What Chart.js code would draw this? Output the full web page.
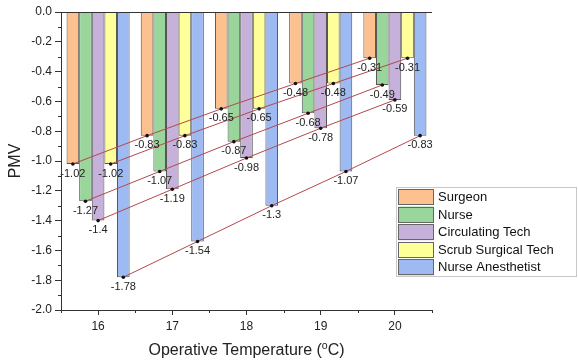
<!DOCTYPE html>
<html><head><meta charset="utf-8">
<script src="https://cdn.jsdelivr.net/npm/chart.js@4"></script>
<style>html,body{margin:0;padding:0;background:#fff;overflow:hidden}</style>
</head><body>
<canvas id="c" width="578" height="363" style="display:block;width:578px;height:363px"></canvas>
<script>
const categories = ['16', '17', '18', '19', '20'];
const seriesNames = ['Surgeon', 'Nurse', 'Circulating Tech', 'Scrub Surgical Tech', 'Nurse Anesthetist'];
const surgeon = [-1.02, -0.83, -0.65, -0.48, -0.31];
const nurse = [-1.27, -1.07, -0.87, -0.68, -0.49];
const circulatingTech = [-1.4, -1.19, -0.98, -0.78, -0.59];
const scrubSurgicalTech = [-1.02, -0.83, -0.65, -0.48, -0.31];
const nurseAnesthetist = [-1.78, -1.54, -1.3, -1.07, -0.83];
const yMinorTicks = [-0.1, -0.3, -0.5, -0.7, -0.9, -1.1, -1.3, -1.5, -1.7, -1.9];
const xTitle = ['Operative Temperature (', 'o', 'C)'];

const colors = ['#FDC08F', '#9AD59B', '#C5B1DA', '#FFFF99', '#9EBAF3'];
const FONT = '"Liberation Sans", Arial, sans-serif';
const TEXT = '#222';
Chart.defaults.font.family = FONT;
Chart.defaults.color = TEXT;

const allSeries = [surgeon, nurse, circulatingTech, scrubSurgicalTech, nurseAnesthetist];

const overlay = {
  id: 'overlay',
  afterDatasetsDraw(chart) {
    const ctx = chart.ctx;
    ctx.save();
    chart.data.datasets.forEach((ds, i) => {
      const meta = chart.getDatasetMeta(i);
      ctx.beginPath();
      meta.data.forEach((bar, j) => {
        if (j === 0) ctx.moveTo(bar.x, bar.y); else ctx.lineTo(bar.x, bar.y);
      });
      ctx.strokeStyle = '#B5474B';
      ctx.lineWidth = 1;
      ctx.stroke();
    });
    chart.data.datasets.forEach((ds, i) => {
      const meta = chart.getDatasetMeta(i);
      meta.data.forEach((bar) => {
        ctx.beginPath();
        ctx.arc(bar.x, bar.y, 1.8, 0, Math.PI * 2);
        ctx.fillStyle = '#111';
        ctx.fill();
      });
    });
    ctx.font = '11px ' + FONT;
    ctx.fillStyle = TEXT;
    ctx.textAlign = 'center';
    ctx.textBaseline = 'middle';
    chart.data.datasets.forEach((ds, i) => {
      const meta = chart.getDatasetMeta(i);
      meta.data.forEach((bar, j) => {
        ctx.fillText(String(ds.data[j]), bar.x, bar.y + 9.5);
      });
    });
    ctx.restore();
  },
  afterDraw(chart) {
    const ctx = chart.ctx;
    const area = chart.chartArea;
    const xs = chart.scales.x, ys = chart.scales.y;
    ctx.save();
    ctx.strokeStyle = '#333';
    ctx.lineWidth = 1;
    ctx.beginPath();
    ctx.moveTo(area.left - 4, Math.round(area.top) + 0.5);
    ctx.lineTo(area.right, Math.round(area.top) + 0.5);
    ctx.stroke();
    yMinorTicks.forEach(v => {
      const y = Math.round(ys.getPixelForValue(v)) + 0.5;
      ctx.beginPath();
      ctx.moveTo(area.left - 3, y);
      ctx.lineTo(area.left, y);
      ctx.stroke();
    });
    const n = categories.length;
    for (let i = 0; i <= n; i++) {
      let x;
      if (i === 0) x = area.left;
      else if (i === n) x = area.right;
      else x = (xs.getPixelForValue(i - 1) + xs.getPixelForValue(i)) / 2;
      x = Math.round(x) + 0.5;
      ctx.beginPath();
      ctx.moveTo(x, area.bottom);
      ctx.lineTo(x, area.bottom + 3);
      ctx.stroke();
    }
    const big = '16px ' + FONT, small = '10.5px ' + FONT;
    ctx.font = big; const w1 = ctx.measureText(xTitle[0]).width, w3 = ctx.measureText(xTitle[2]).width;
    ctx.font = small; const w2 = ctx.measureText(xTitle[1]).width;
    const total = w1 + w2 + w3;
    let x0 = (area.left + area.right) / 2 - total / 2;
    const yT = 351;
    ctx.fillStyle = TEXT;
    ctx.textAlign = 'left';
    ctx.textBaseline = 'middle';
    ctx.font = big; ctx.fillText(xTitle[0], x0, yT);
    ctx.font = small; ctx.fillText(xTitle[1], x0 + w1, yT - 5);
    ctx.font = big; ctx.fillText(xTitle[2], x0 + w1 + w2, yT);
    const lx = 396, ly = 187, lw = 181, lh = 90;
    ctx.fillStyle = '#fff';
    ctx.fillRect(lx, ly, lw, lh);
    ctx.strokeStyle = '#c8c8c8';
    ctx.strokeRect(lx + 0.5, ly + 0.5, lw - 1, lh - 1);
    ctx.font = '13px ' + FONT;
    chart.data.datasets.forEach((ds, i) => {
      const top = ly + 2 + i * 17.6;
      ctx.fillStyle = ds.backgroundColor;
      ctx.fillRect(lx + 2, top, 36, 16);
      ctx.strokeStyle = '#666';
      ctx.strokeRect(lx + 2.5, Math.round(top) + 0.5, 35, 15);
      ctx.fillStyle = '#111';
      ctx.fillText(ds.label, lx + 42, top + 8.5);
    });
    ctx.restore();
  }
};

new Chart(document.getElementById('c'), {
  type: 'bar',
  data: {
    labels: categories,
    datasets: seriesNames.map((name, i) => ({
      label: name,
      data: allSeries[i],
      backgroundColor: colors[i],
      borderColor: '#555',
      borderWidth: 1,
      categoryPercentage: 0.85,
      barPercentage: 1.0
    }))
  },
  options: {
    responsive: false,
    devicePixelRatio: 1,
    animation: false,
    layout: { padding: { top: 12, right: 146, left: 0, bottom: 0 } },
    plugins: { legend: { display: false }, tooltip: { enabled: false } },
    scales: {
      x: {
        type: 'category',
        offset: true,
        grid: { offset: false, drawOnChartArea: false, drawTicks: true, tickLength: 5, color: '#333' },
        border: { display: true, color: '#333', width: 1 },
        ticks: { font: { size: 12 }, color: TEXT, padding: 4, maxRotation: 0 },
        afterFit(scale) { scale.height = 53; }
      },
      y: {
        type: 'linear',
        min: -2, max: 0,
        grid: { drawOnChartArea: false, drawTicks: true, tickLength: 6, color: '#333' },
        border: { display: true, color: '#333', width: 1 },
        ticks: { stepSize: 0.2, font: { size: 12 }, color: TEXT, padding: 3,
          callback: v => Number(v).toFixed(1) },
        title: { display: true, text: 'PMV', font: { size: 16 }, color: TEXT, padding: { top: 6, bottom: 0 } },
        afterFit(scale) { scale.width = 61; }
      }
    }
  },
  plugins: [overlay]
});
</script>
</body></html>
